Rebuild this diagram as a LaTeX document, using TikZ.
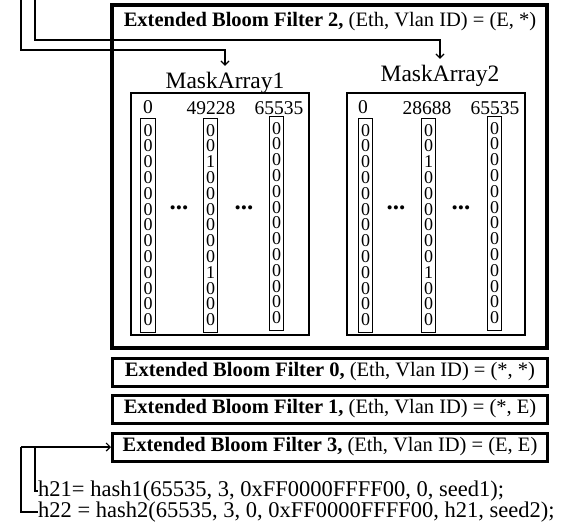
\documentclass[tikz,border=0pt]{standalone}
\usepackage{fontspec}
\setmainfont{Liberation Serif}
\usetikzlibrary{arrows.meta,positioning}

\newcommand\allzero{0\\0\\0\\0\\0\\0\\0\\0\\0\\0\\0\\0\\0}
\newcommand\hitbits{0\\0\\1\\0\\0\\0\\0\\0\\0\\1\\0\\0\\0}

\tikzset{
  filterbox/.style={draw,line width=3pt,minimum width=435pt,minimum height=28pt,inner sep=0pt,font=\fontsize{20.5}{22}\selectfont},
  maskbox/.style={draw,line width=2pt,minimum width=178pt,minimum height=242pt,inner sep=0pt},
  bitcol/.style={draw,line width=.9pt,inner xsep=2.6pt,inner ysep=0pt,minimum height=214pt,align=center,font=\fontsize{18}{15.8}\selectfont},
  hdr/.style={font=\fontsize{19.5}{21}\selectfont,inner sep=0pt},
  masklbl/.style={font=\fontsize{23.5}{25}\selectfont},
  hashline/.style={anchor=west,inner sep=0pt,font=\fontsize{22.5}{24}\selectfont},
  link/.style={line width=1.2pt},
}

\begin{document}
\begin{tikzpicture}[x=1pt,y=-1pt,>={Straight Barb[length=4pt,width=8pt]}]
\useasboundingbox (0,0) rectangle (562,530);

% filter 2 with its two mask arrays
\node[draw,line width=3.2pt,minimum width=435pt,minimum height=343pt] (ebfTwo) at (329.5,176.5) {};
\node[font=\fontsize{20.5}{22}\selectfont] (ebfTwoTitle) at (330,22) {\textbf{Extended Bloom Filter 2,} (Eth, Vlan ID) = (E, *)};
\node[maskbox] (maskOne) at (220,214) {};
\node[maskbox] (maskTwo) at (436,213.5) {};
\node[masklbl] (maskLblOne) at (225,83) {MaskArray1};
\node[masklbl] (maskLblTwo) at (440,76) {MaskArray2};

\foreach \hx/\hy/\num [count=\i] in {148/107/0,211/108/49228,279/108/65535,363/107/0,427/108/28688,495/108/65535}
  \node[hdr] (hdr\i) at (\hx,\hy) {\num};
\foreach \cx/\cy/\bits [count=\i] in {148/225/\allzero,210.5/225/\hitbits,276.5/223/\allzero,365.5/225/\allzero,428.5/225/\hitbits,494.5/223/\allzero}
  \node[bitcol] (col\i) at (\cx,\cy) {\bits};
\foreach \dx [count=\i] in {179,244,396,461}
  \node[font=\fontsize{25}{25}\selectfont\bfseries,inner sep=0pt] (dots\i) at (\dx,208) {...};

% the other filters
\node[filterbox] (ebfZero) at (330,372) {\textbf{Extended Bloom Filter 0,} (Eth, Vlan ID) = (*, *)};
\node[filterbox] (ebfOne) at (330,409) {\textbf{Extended Bloom Filter 1,} (Eth, Vlan ID) = (*, E)};
\node[filterbox] (ebfThree) at (330,447) {\textbf{Extended Bloom Filter 3,} (Eth, Vlan ID) = (E, E)};

\node[hashline] (hOne) at (38,491) {h21= hash1(65535, 3, 0xFF0000FFFF00, 0, seed1);};
\node[hashline] (hTwo) at (38,512) {h22 = hash2(65535, 3, 0, 0xFF0000FFFF00, h21, seed2);};

% connectors
\coordinate (inA) at (21,0);
\coordinate (inB) at (35,0);
\coordinate (outA) at (21,447);
\coordinate (outB) at (35,447);
\draw[link,->] (inA) |- (225,50) -- ([yshift=3pt]maskLblOne.north);
\draw[link,->] (inB) |- (440,40) -- ([yshift=3pt]maskLblTwo.north);
\draw[link,->] (outA) -- (ebfThree.west);
\draw[link] (outB) |- (hOne.west);
\draw[link] (outA) |- (hTwo.west);
\end{tikzpicture}
\end{document}
